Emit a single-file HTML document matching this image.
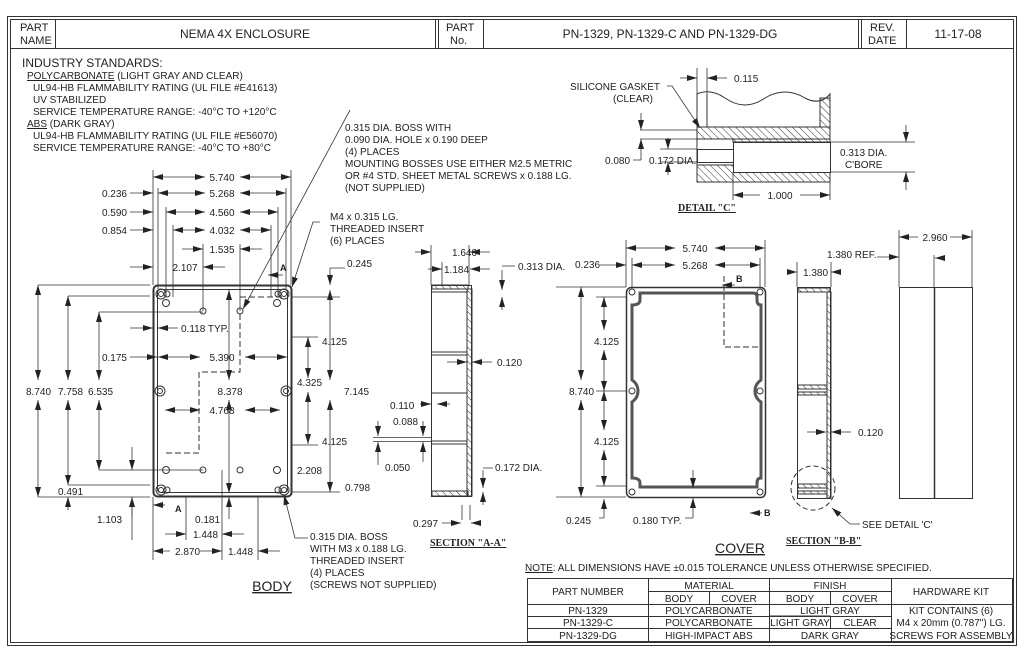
<!DOCTYPE html>
<html><head><meta charset="utf-8"><style>
html,body{margin:0;padding:0;background:#fff;}
svg{display:block;}
text{font-family:"Liberation Sans",sans-serif;fill:#222;}
.s{font-size:10px;}
.m{font-size:11px;}
.b{font-family:"Liberation Serif",serif;font-weight:bold;font-size:10px;text-decoration:underline;}
</style></head><body>
<svg width="1024" height="663" viewBox="0 0 1024 663" xmlns="http://www.w3.org/2000/svg">
<defs>
<marker id="a" viewBox="0 0 10 6" refX="10" refY="3" markerWidth="10" markerHeight="6" orient="auto-start-reverse" markerUnits="userSpaceOnUse"><path d="M0,0 L10,3 L0,6z" fill="#222"/></marker>
<pattern id="h" width="5" height="5" patternUnits="userSpaceOnUse" patternTransform="rotate(-45)"><line x1="0" y1="0" x2="0" y2="5" stroke="#333" stroke-width="1"/></pattern>
</defs>
<g fill="none" stroke="#333" stroke-width="1">
<!-- frame -->
<rect x="7.5" y="16.5" width="1009" height="629"/>
<rect x="10.5" y="19.5" width="1003" height="623"/>
<line x1="10" y1="48.5" x2="1013" y2="48.5"/>
<line x1="55.5" y1="19" x2="55.5" y2="48"/>
<line x1="435.5" y1="19" x2="435.5" y2="48"/><line x1="438.5" y1="19" x2="438.5" y2="48"/>
<line x1="483.5" y1="19" x2="483.5" y2="48"/>
<line x1="858.5" y1="19" x2="858.5" y2="48"/><line x1="861.5" y1="19" x2="861.5" y2="48"/>
<line x1="906.5" y1="19" x2="906.5" y2="48"/>
<!-- table -->
<rect x="527.5" y="578.5" width="485" height="63"/>
<line x1="648.5" y1="578" x2="648.5" y2="641"/>
<line x1="769.5" y1="578" x2="769.5" y2="641"/>
<line x1="891.5" y1="578" x2="891.5" y2="641"/>
<line x1="709.5" y1="592" x2="709.5" y2="604"/>
<line x1="830.5" y1="592" x2="830.5" y2="604"/>
<line x1="769.5" y1="616" x2="830.5" y2="616"/><line x1="830.5" y1="617" x2="830.5" y2="628"/>
<line x1="648" y1="591.5" x2="891" y2="591.5"/>
<line x1="527" y1="604.5" x2="1012" y2="604.5"/>
<line x1="527" y1="616.5" x2="891" y2="616.5"/>
<line x1="527" y1="628.5" x2="891" y2="628.5"/>

<!-- BODY -->
<rect x="153.5" y="285.5" width="138" height="211" rx="4" stroke-width="2"/>
<rect x="157.5" y="289.5" width="130" height="203" rx="3"/>
<g stroke-width="1">
<circle cx="161" cy="294" r="5"/><circle cx="161" cy="294" r="2.5"/><circle cx="167" cy="294" r="3"/>
<circle cx="284" cy="294" r="5"/><circle cx="284" cy="294" r="2.5"/><circle cx="278" cy="294" r="3"/>
<circle cx="161" cy="490" r="5"/><circle cx="161" cy="490" r="2.5"/><circle cx="167" cy="490" r="3"/>
<circle cx="284" cy="490" r="5"/><circle cx="284" cy="490" r="2.5"/><circle cx="278" cy="490" r="3"/>
<circle cx="160" cy="391" r="5"/><circle cx="160" cy="391" r="2.5"/>
<circle cx="286" cy="391" r="5"/><circle cx="286" cy="391" r="2.5"/>
<circle cx="166" cy="303" r="3.5"/><circle cx="277" cy="303" r="3.5"/><circle cx="166" cy="470" r="3.5"/><circle cx="277" cy="470" r="3.5"/>
<circle cx="203" cy="311" r="3"/><circle cx="240" cy="311" r="3"/><circle cx="203" cy="470" r="3"/><circle cx="240" cy="470" r="3"/>
</g>
<path d="M240,314 V372 H199 V453 H166" stroke-dasharray="6,3"/>
<path d="M240,297 H283" stroke-dasharray="6,3"/>
<!-- body extension lines -->
<path d="M153,170 V285 M158,188 V289 M166,207 V297 M173,225 V297 M203,244 V311 M240,244 V311 M271,225 V297 M278,207 V297 M286,188 V289 M291,170 V285" stroke-width="0.8"/>
<g stroke-width="0.8" marker-start="url(#a)" marker-end="url(#a)">
<line x1="153" y1="177" x2="205" y2="177"/><line x1="240" y1="177" x2="291" y2="177"/>
<line x1="158" y1="193" x2="205" y2="193"/><line x1="240" y1="193" x2="286" y2="193"/>
<line x1="166" y1="212" x2="205" y2="212"/><line x1="240" y1="212" x2="278" y2="212"/>
<line x1="173" y1="230" x2="205" y2="230"/><line x1="240" y1="230" x2="271" y2="230"/>
<line x1="38" y1="285" x2="38" y2="380"/><line x1="38" y1="400" x2="38" y2="497"/>
<line x1="68" y1="296" x2="68" y2="380"/><line x1="68" y1="400" x2="68" y2="485"/>
<line x1="99" y1="312" x2="99" y2="380"/><line x1="99" y1="400" x2="99" y2="470"/>
<line x1="229" y1="290" x2="229" y2="380"/><line x1="229" y1="400" x2="229" y2="493"/>
<line x1="158" y1="357" x2="200" y2="357"/><line x1="245" y1="357" x2="287" y2="357"/>
<line x1="165" y1="410" x2="200" y2="410"/><line x1="245" y1="410" x2="280" y2="410"/>
<line x1="330" y1="290" x2="330" y2="380"/><line x1="330" y1="400" x2="330" y2="492"/>
<line x1="308" y1="337" x2="308" y2="378"/><line x1="308" y1="392" x2="308" y2="444"/>
</g>
<g stroke-width="0.8" marker-end="url(#a)">
<line x1="130" y1="193" x2="153" y2="193"/><line x1="130" y1="212" x2="153" y2="212"/><line x1="130" y1="230" x2="153" y2="230"/>
<line x1="130" y1="267" x2="153" y2="267"/><line x1="182" y1="249" x2="203" y2="249"/><line x1="262" y1="249" x2="240" y2="249"/>
<line x1="225" y1="267" x2="203" y2="267"/><line x1="283" y1="275" x2="268" y2="275"/>
<line x1="130" y1="328" x2="153" y2="328"/><line x1="178" y1="328" x2="158" y2="328"/>
<line x1="130" y1="357" x2="157" y2="357"/>
<line x1="132" y1="447" x2="132" y2="470"/><line x1="132" y1="517" x2="132" y2="497"/>
<line x1="68" y1="510" x2="68" y2="497"/>
<line x1="165" y1="505" x2="153" y2="505"/>
<line x1="229" y1="519" x2="229" y2="497"/>
<line x1="165" y1="534" x2="186" y2="534"/><line x1="244" y1="534" x2="222" y2="534"/>
<line x1="170" y1="551" x2="153" y2="551"/><line x1="200" y1="551" x2="222" y2="551"/><line x1="280" y1="551" x2="258" y2="551"/>
<line x1="330" y1="268" x2="330" y2="285"/>
<line x1="350" y1="110" x2="243" y2="309"/>
<path d="M320,222 H313 L292,287"/>
<path d="M308,538 H295 L284,495"/>
</g>
<path d="M38,285 H150 M68,296 H150 M99,312 H203 M68,485 H150 M38,497 H150 M99,470 H203 M132,497 V540 M186,497 V540 M222,470 V560 M258,497 V560 M153,497 V560 M291,297 H340 M291,492 H340 M291,445 H318 M291,337 H318 M330,268 H345" stroke-width="0.8"/>

<!-- SECTION A-A -->
<rect x="431.5" y="285.5" width="40" height="211"/>
<rect x="432" y="285" width="36" height="4" fill="url(#h)"/>
<rect x="467" y="289" width="5" height="207" fill="url(#h)"/>
<rect x="432" y="491" width="36" height="5" fill="url(#h)"/>
<line x1="432" y1="292" x2="468" y2="292"/>
<line x1="432" y1="352" x2="467" y2="352"/><line x1="432" y1="355" x2="467" y2="355"/>
<line x1="432" y1="441" x2="467" y2="441"/><line x1="432" y1="444" x2="467" y2="444"/>
<line x1="432" y1="393" x2="467" y2="393"/>
<path d="M431,245 V285 M469,245 V285 M442,262 V285 M469,262 V285 M462,505 V520 M470,505 V520" stroke-width="0.8"/>
<g stroke-width="0.8" marker-end="url(#a)">
<line x1="415" y1="252" x2="431" y2="252"/><line x1="490" y1="252" x2="470" y2="252"/>
<line x1="428" y1="269" x2="442" y2="269"/><line x1="490" y1="269" x2="470" y2="269"/>
<line x1="502" y1="270" x2="502" y2="290"/><line x1="502" y1="310" x2="502" y2="297"/>
<line x1="447" y1="362" x2="467" y2="362"/><line x1="492" y1="362" x2="472" y2="362"/>
<line x1="420" y1="404" x2="431" y2="404"/><line x1="450" y1="404" x2="437" y2="404"/>
<line x1="378" y1="421" x2="378" y2="436"/><line x1="423" y1="421" x2="423" y2="436"/>
<line x1="378" y1="465" x2="378" y2="442"/><line x1="423" y1="462" x2="423" y2="442"/>
<line x1="483" y1="470" x2="483" y2="488"/><line x1="483" y1="505" x2="483" y2="492"/>
<line x1="442" y1="523" x2="461" y2="523"/><line x1="480" y1="523" x2="471" y2="523"/>
</g>
<path d="M373,437.5 H432 M373,441.5 H432 M502,266 H515 M483,468 H493" stroke-width="0.8"/>

<!-- COVER -->
<rect x="626.5" y="287.5" width="139" height="210" rx="5" stroke-width="1.5"/>
<path d="M640,293 H753 Q757,293 757,297 V300 Q757,305 761,305 V380 Q755,384 755,391 Q755,398 761,402 V478 Q757,478 757,483 V487 H640 V483 Q640,478 632,478 V402 Q638,398 638,391 Q638,384 632,380 V305 Q640,305 640,300 Z" stroke-width="3" stroke="#555"/>
<circle cx="632" cy="292" r="3"/><circle cx="760" cy="292" r="3"/><circle cx="632" cy="492" r="3"/><circle cx="760" cy="492" r="3"/>
<circle cx="632" cy="391" r="3"/><circle cx="760" cy="391" r="3"/>
<path d="M724,276 V347 H760" stroke-dasharray="6,3"/>
<path d="M626,240 V287 M632,258 V287 M765,240 V287 M760,258 V287 M556,287 H626 M596,297 H626 M596,391 H626 M596,486 H626 M556,497 H626" stroke-width="0.8"/>
<g stroke-width="0.8" marker-start="url(#a)" marker-end="url(#a)">
<line x1="626" y1="248" x2="675" y2="248"/><line x1="715" y1="248" x2="765" y2="248"/>
<line x1="632" y1="265" x2="675" y2="265"/><line x1="715" y1="265" x2="760" y2="265"/>
<line x1="581" y1="287" x2="581" y2="380"/><line x1="581" y1="400" x2="581" y2="497"/>
<line x1="604" y1="297" x2="604" y2="330"/><line x1="604" y1="350" x2="604" y2="391"/>
<line x1="604" y1="391" x2="604" y2="430"/><line x1="604" y1="450" x2="604" y2="486"/>
</g>
<g stroke-width="0.8" marker-end="url(#a)">
<line x1="600" y1="265" x2="626" y2="265"/>
<line x1="604" y1="518" x2="604" y2="499"/><line x1="693" y1="518" x2="693" y2="498"/>
<line x1="693" y1="470" x2="693" y2="488"/>
<line x1="735" y1="285" x2="722" y2="285"/><line x1="762" y1="513" x2="750" y2="513"/>
</g>
<path d="M599,518 H604 M685,518 H693" stroke-width="0.8"/>

<!-- SECTION B-B -->
<rect x="797.5" y="287.5" width="33" height="211"/>
<rect x="798" y="288" width="32" height="4" fill="url(#h)"/>
<rect x="827" y="292" width="4" height="206" fill="url(#h)"/>
<rect x="798" y="385" width="29" height="4" fill="url(#h)"/>
<rect x="798" y="392" width="29" height="3" fill="url(#h)"/>
<rect x="798" y="484" width="29" height="4" fill="url(#h)"/>
<rect x="798" y="491" width="29" height="3" fill="url(#h)"/>
<circle cx="813" cy="488" r="22" stroke-dasharray="5,3"/>
<path d="M797,262 V287 M831,262 V287 M899,230 V287 M972,230 V287 M934,255 V287" stroke-width="0.8"/>
<g stroke-width="0.8" marker-end="url(#a)">
<line x1="787" y1="272" x2="797" y2="272"/><line x1="841" y1="272" x2="831" y2="272"/>
<line x1="877" y1="257" x2="899" y2="257"/>
<line x1="807" y1="432" x2="826" y2="432"/><line x1="851" y1="432" x2="831" y2="432"/>
<path d="M860,524 H850 L832,508"/>
<line x1="918" y1="237" x2="899" y2="237"/><line x1="950" y1="237" x2="972" y2="237"/>
<line x1="945" y1="258" x2="935" y2="258"/>
</g>
<!-- side view -->
<rect x="899.5" y="287.5" width="73" height="211"/>
<line x1="934.5" y1="287" x2="934.5" y2="498" stroke-width="1.5"/>

<!-- DETAIL C -->
<path d="M697,127 V94 Q710,88 725,98 Q745,112 765,98 Q785,86 805,98 Q820,106 830,94 V182 H697 Z"/>
<line x1="707" y1="94" x2="707" y2="127"/>
<rect x="697" y="127" width="133" height="12" fill="url(#h)"/>
<rect x="697" y="165" width="133" height="17" fill="url(#h)"/>
<rect x="733" y="139" width="97" height="3" fill="url(#h)"/>
<rect x="820" y="98" width="10" height="29" fill="url(#h)"/>
<rect x="733.5" y="142.5" width="97" height="30" fill="#fff"/>
<rect x="697.5" y="149.5" width="36" height="13" fill="#fff"/>
<line x1="697" y1="127" x2="830" y2="127"/>
<path d="M697,68 V94 M707,68 V94 M733,172 V200 M830,172 V200 M830,142 H915 M830,172 H915 M640,130 H697 M640,139 H697 M660,149 H697 M660,162 H697" stroke-width="0.8"/>
<g stroke-width="0.8" marker-end="url(#a)">
<line x1="680" y1="78" x2="697" y2="78"/><line x1="727" y1="78" x2="707" y2="78"/>
<path d="M667,86 H672 L700,128"/>
<line x1="641" y1="113" x2="641" y2="130"/><line x1="641" y1="160" x2="641" y2="139"/>
<line x1="668" y1="138" x2="668" y2="149"/><line x1="668" y1="175" x2="668" y2="162"/>
<line x1="906" y1="125" x2="906" y2="142"/><line x1="906" y1="190" x2="906" y2="172"/>
<line x1="760" y1="195" x2="733" y2="195"/><line x1="800" y1="195" x2="830" y2="195"/>
</g>
<path d="M633,160 H641" stroke-width="0.8"/>
</g>

<!-- TEXT -->
<text x="20" y="31" class="m">PART</text><text x="20" y="44" class="m">NAME</text>
<text x="245" y="38" font-size="12" text-anchor="middle">NEMA 4X ENCLOSURE</text>
<text x="446" y="31" class="m">PART</text><text x="450" y="44" class="m">No.</text>
<text x="670" y="38" font-size="12" text-anchor="middle">PN-1329, PN-1329-C AND PN-1329-DG</text>
<text x="870" y="31" class="m">REV.</text><text x="868" y="44" class="m">DATE</text>
<text x="958" y="38" font-size="12" text-anchor="middle">11-17-08</text>

<text x="22" y="67" font-size="12">INDUSTRY STANDARDS:</text>
<text x="27" y="79" class="s"><tspan text-decoration="underline">POLYCARBONATE</tspan> (LIGHT GRAY AND CLEAR)</text>
<text x="33" y="91" class="s">UL94-HB FLAMMABILITY RATING (UL FILE #E41613)</text>
<text x="33" y="103" class="s">UV STABILIZED</text>
<text x="33" y="115" class="s">SERVICE TEMPERATURE RANGE:  -40°C TO +120°C</text>
<text x="27" y="127" class="s"><tspan text-decoration="underline">ABS</tspan> (DARK GRAY)</text>
<text x="33" y="139" class="s">UL94-HB FLAMMABILITY RATING (UL FILE #E56070)</text>
<text x="33" y="151" class="s">SERVICE TEMPERATURE RANGE:  -40°C TO +80°C</text>

<g class="s">
<text x="345" y="131" class="s">0.315 DIA. BOSS WITH</text>
<text x="345" y="143" class="s">0.090 DIA. HOLE x 0.190 DEEP</text>
<text x="345" y="155" class="s">(4) PLACES</text>
<text x="345" y="167" class="s">MOUNTING BOSSES USE EITHER M2.5 METRIC</text>
<text x="345" y="179" class="s">OR #4 STD. SHEET METAL SCREWS x 0.188 LG.</text>
<text x="345" y="191" class="s">(NOT SUPPLIED)</text>
<text x="330" y="220" class="s">M4 x 0.315 LG.</text>
<text x="330" y="232" class="s">THREADED INSERT</text>
<text x="330" y="244" class="s">(6) PLACES</text>
<text x="310" y="540" class="s">0.315 DIA. BOSS</text>
<text x="310" y="552" class="s">WITH M3 x 0.188 LG.</text>
<text x="310" y="564" class="s">THREADED INSERT</text>
<text x="310" y="576" class="s">(4) PLACES</text>
<text x="310" y="588" class="s">(SCREWS NOT SUPPLIED)</text>

<text x="222" y="181" class="s" text-anchor="middle">5.740</text>
<text x="222" y="197" class="s" text-anchor="middle">5.268</text>
<text x="222" y="216" class="s" text-anchor="middle">4.560</text>
<text x="222" y="234" class="s" text-anchor="middle">4.032</text>
<text x="222" y="253" class="s" text-anchor="middle">1.535</text>
<text x="185" y="271" class="s" text-anchor="middle">2.107</text>
<text x="127" y="197" class="s" text-anchor="end">0.236</text>
<text x="127" y="216" class="s" text-anchor="end">0.590</text>
<text x="127" y="234" class="s" text-anchor="end">0.854</text>
<text x="181" y="332" class="s">0.118  TYP.</text>
<text x="127" y="361" class="s" text-anchor="end">0.175</text>
<text x="222" y="361" class="s" text-anchor="middle">5.390</text>
<text x="222" y="414" class="s" text-anchor="middle">4.768</text>
<text x="230" y="395" class="s" text-anchor="middle">8.378</text>
<text x="26" y="395" class="s">8.740</text><text x="58" y="395" class="s">7.758</text><text x="88" y="395" class="s">6.535</text>
<text x="58" y="495" class="s">0.491</text>
<text x="97" y="523" class="s">1.103</text>
<text x="195" y="523" class="s">0.181</text>
<text x="193" y="538" class="s">1.448</text>
<text x="175" y="555" class="s">2.870</text>
<text x="228" y="555" class="s">1.448</text>
<text x="175" y="512" font-size="9" font-family="Liberation Serif" font-weight="bold">A</text>
<text x="280" y="271" font-size="9" font-family="Liberation Serif" font-weight="bold">A</text>
<text x="347" y="267" class="s">0.245</text>
<text x="322" y="345" class="s">4.125</text>
<text x="297" y="386" class="s">4.325</text>
<text x="344" y="395" class="s">7.145</text>
<text x="322" y="445" class="s">4.125</text>
<text x="297" y="474" class="s">2.208</text>
<text x="345" y="491" class="s">0.798</text>
<text x="272" y="591" font-size="14" text-anchor="middle" text-decoration="underline">BODY</text>

<text x="452" y="256" class="s">1.640</text>
<text x="444" y="273" class="s">1.184</text>
<text x="518" y="270" class="s">0.313 DIA.</text>
<text x="497" y="366" class="s">0.120</text>
<text x="390" y="409" class="s">0.110</text>
<text x="393" y="425" class="s">0.088</text>
<text x="385" y="471" class="s">0.050</text>
<text x="495" y="471" class="s">0.172 DIA.</text>
<text x="413" y="527" class="s">0.297</text>
<text x="430" y="546" class="b">SECTION "A-A"</text>

<text x="695" y="252" class="s" text-anchor="middle">5.740</text>
<text x="695" y="269" class="s" text-anchor="middle">5.268</text>
<text x="575" y="268" class="s">0.236</text>
<text x="594" y="345" class="s">4.125</text>
<text x="569" y="395" class="s">8.740</text>
<text x="594" y="445" class="s">4.125</text>
<text x="566" y="524" class="s">0.245</text>
<text x="633" y="524" class="s">0.180  TYP.</text>
<text x="736" y="282" font-size="9" font-family="Liberation Serif" font-weight="bold">B</text>
<text x="764" y="516" font-size="9" font-family="Liberation Serif" font-weight="bold">B</text>
<text x="740" y="553" font-size="14" text-anchor="middle" text-decoration="underline">COVER</text>

<text x="827" y="258" class="s">1.380  REF.</text>
<text x="803" y="276" class="s">1.380</text>
<text x="858" y="436" class="s">0.120</text>
<text x="862" y="528" class="s">SEE  DETAIL  'C'</text>
<text x="786" y="544" class="b">SECTION "B-B"</text>
<text x="935" y="241" class="s" text-anchor="middle">2.960</text>

<text x="570" y="90" class="s">SILICONE GASKET</text>
<text x="613" y="102" class="s">(CLEAR)</text>
<text x="734" y="82" class="s">0.115</text>
<text x="605" y="164" class="s">0.080</text>
<text x="649" y="164" class="s">0.172  DIA.</text>
<text x="840" y="156" class="s">0.313  DIA.</text>
<text x="845" y="168" class="s">C'BORE</text>
<text x="780" y="199" class="s" text-anchor="middle">1.000</text>
<text x="678" y="211" class="b">DETAIL "C"</text>

<text x="525" y="571" class="s"><tspan text-decoration="underline">NOTE</tspan>:  ALL DIMENSIONS HAVE ±0.015 TOLERANCE UNLESS OTHERWISE SPECIFIED.</text>
<text x="588" y="595" class="s" text-anchor="middle">PART NUMBER</text>
<text x="709" y="589" class="s" text-anchor="middle">MATERIAL</text>
<text x="830" y="589" class="s" text-anchor="middle">FINISH</text>
<text x="679" y="602" class="s" text-anchor="middle">BODY</text>
<text x="739" y="602" class="s" text-anchor="middle">COVER</text>
<text x="800" y="602" class="s" text-anchor="middle">BODY</text>
<text x="860" y="602" class="s" text-anchor="middle">COVER</text>
<text x="951" y="595" class="s" text-anchor="middle">HARDWARE KIT</text>
<text x="588" y="614" class="s" text-anchor="middle">PN-1329</text>
<text x="709" y="614" class="s" text-anchor="middle">POLYCARBONATE</text>
<text x="830" y="614" class="s" text-anchor="middle">LIGHT GRAY</text>
<text x="951" y="614" class="s" text-anchor="middle">KIT CONTAINS (6)</text>
<text x="588" y="626" class="s" text-anchor="middle">PN-1329-C</text>
<text x="709" y="626" class="s" text-anchor="middle">POLYCARBONATE</text>
<text x="800" y="626" class="s" text-anchor="middle">LIGHT GRAY</text>
<text x="860" y="626" class="s" text-anchor="middle">CLEAR</text>
<text x="951" y="626" class="s" text-anchor="middle">M4 x 20mm (0.787") LG.</text>
<text x="588" y="639" class="s" text-anchor="middle">PN-1329-DG</text>
<text x="709" y="639" class="s" text-anchor="middle">HIGH-IMPACT ABS</text>
<text x="830" y="639" class="s" text-anchor="middle">DARK GRAY</text>
<text x="951" y="639" class="s" text-anchor="middle">SCREWS FOR ASSEMBLY</text>
</g>
</svg>
</body></html>
